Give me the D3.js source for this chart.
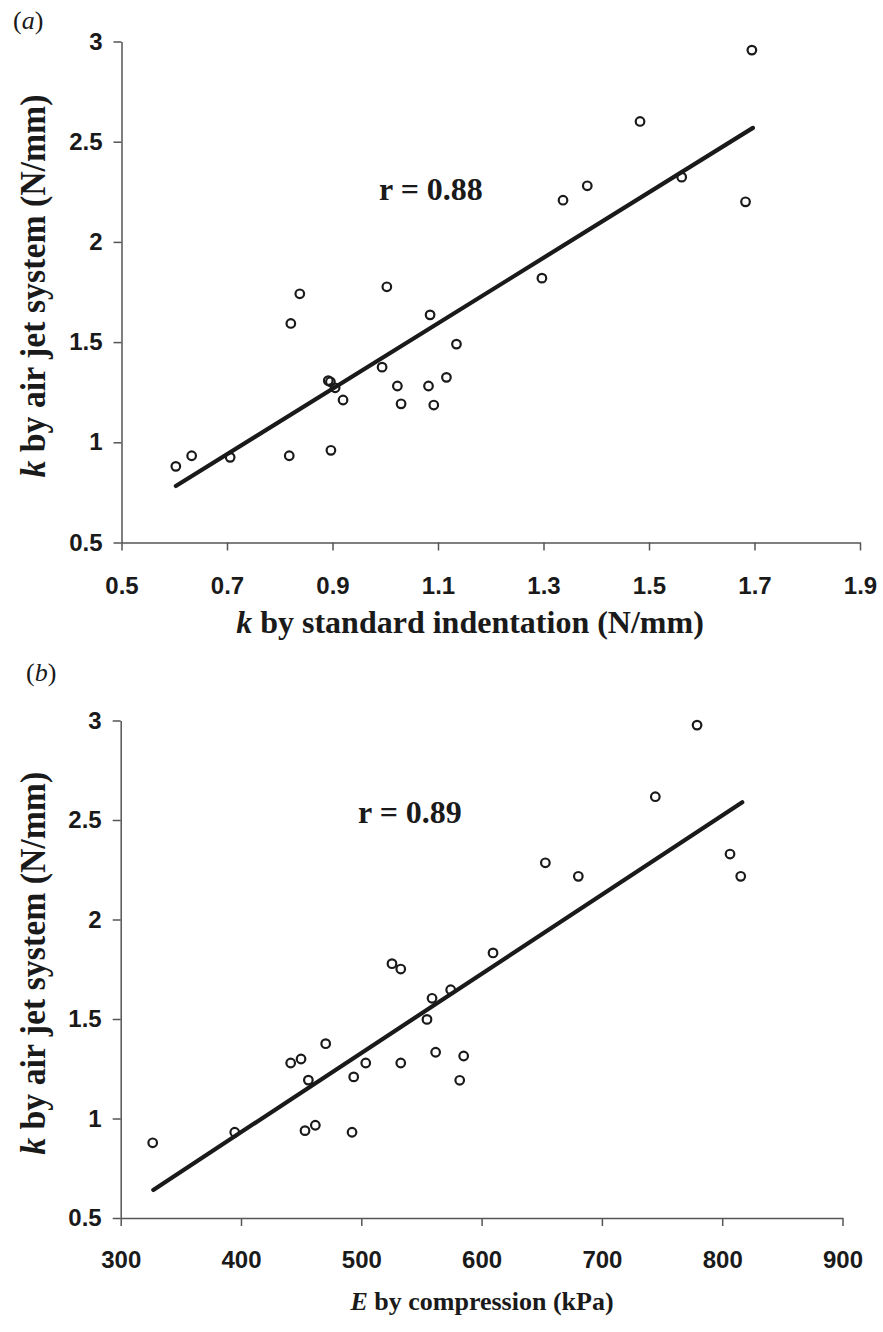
<!DOCTYPE html>
<html>
<head>
<meta charset="utf-8">
<script src="https://cdn.jsdelivr.net/npm/d3@7"></script>
<style>
  html, body { margin: 0; padding: 0; background: #fff; }
  svg { display: block; }
  .tick text { font-family: "Liberation Sans", Arial, sans-serif; font-weight: bold; font-size: 24px; fill: #1a1a1a; }
  .tick line { stroke: #555; stroke-width: 1.5; }
  .domain { stroke: #555; stroke-width: 1.5; }
</style>
</head>
<body>
<svg id="chart" width="883" height="1332"></svg>
<script>
// ---------- DATA ----------
// Panel (a): k by standard indentation (N/mm) vs k by air jet system (N/mm)
const aIndentation = [0.603, 0.633, 0.706, 0.818, 0.821, 0.838, 0.892, 0.896, 0.905, 0.897, 0.920,
  0.994, 1.003, 1.023, 1.030, 1.082, 1.085, 1.092, 1.116, 1.135,
  1.297, 1.337, 1.383, 1.483, 1.562, 1.683, 1.695];
const aAirJet = [0.880, 0.933, 0.925, 0.933, 1.593, 1.741, 1.308, 1.302, 1.272, 0.960, 1.211,
  1.375, 1.776, 1.281, 1.192, 1.281, 1.636, 1.186, 1.324, 1.490,
  1.819, 2.208, 2.280, 2.601, 2.323, 2.200, 2.957];
const aFitX = [0.603, 1.697];
const aFitY = [0.782, 2.569];
const aR = "r = 0.88";

// Panel (b): E by compression (kPa) vs k by air jet system (N/mm)
const bCompression = [326.6, 394.8, 441.3, 449.9, 456.0, 453.2, 461.8, 470.4, 492.3, 493.7, 503.7,
  525.5, 532.8, 532.8, 554.6, 558.8, 561.8, 574.3, 581.8, 585.1, 609.5,
  653.0, 680.4, 744.4, 779.1, 806.5, 815.4];
const bAirJet = [0.878, 0.931, 1.279, 1.299, 1.193, 0.939, 0.966, 1.376, 0.931, 1.209, 1.279,
  1.778, 1.751, 1.279, 1.498, 1.604, 1.333, 1.647, 1.192, 1.314, 1.832,
  2.285, 2.217, 2.617, 2.977, 2.329, 2.217];
const bFitX = [327.1, 816.7];
const bFitY = [0.641, 2.589];
const bR = "r = 0.89";

// Ticks
const aXTicks = [0.5, 0.7, 0.9, 1.1, 1.3, 1.5, 1.7, 1.9];
const bXTicks = [300, 400, 500, 600, 700, 800, 900];
const yTicks = [0.5, 1, 1.5, 2, 2.5, 3];

// ---------- DRAW ----------
const svg = d3.select("#chart");
const ink = "#1a1a1a";
const serif = '"Liberation Serif", "Times New Roman", serif';

function panel(cfg) {
  const g = svg.append("g");
  const x = d3.scaleLinear().domain(cfg.xDomain).range(cfg.xRange);
  const y = d3.scaleLinear().domain([0.5, 3]).range(cfg.yRange);

  const xAxis = d3.axisBottom(x).tickValues(cfg.xTicks).tickSize(8).tickPadding(cfg.xPad)
    .tickFormat(cfg.xFmt).tickSizeOuter(0);
  const yAxis = d3.axisLeft(y).tickValues(yTicks).tickSize(8).tickPadding(11)
    .tickFormat(d => String(d)).tickSizeOuter(0);

  g.append("g").attr("transform", `translate(0,${cfg.yRange[0]})`).call(xAxis);
  g.append("g").attr("transform", `translate(${cfg.xRange[0]},0)`).call(yAxis);

  // fitted line
  const line = d3.line().x(d => x(d[0])).y(d => y(d[1]));
  g.append("path")
    .datum(cfg.fitX.map((v, i) => [v, cfg.fitY[i]]))
    .attr("d", line)
    .attr("fill", "none").attr("stroke", ink).attr("stroke-width", 4.2).attr("stroke-linecap", "round");

  // points
  g.append("g").selectAll("circle")
    .data(cfg.xs.map((v, i) => [v, cfg.ys[i]]))
    .join("circle")
    .attr("cx", d => x(d[0])).attr("cy", d => y(d[1])).attr("r", 4.3)
    .attr("fill", "none").attr("stroke", ink).attr("stroke-width", 2.2);

  // r label
  g.append("text").attr("x", cfg.rPos[0]).attr("y", cfg.rPos[1])
    .attr("font-family", serif).attr("font-weight", "bold").attr("font-size", 32)
    .attr("fill", ink).text(cfg.rText);

  // panel letter
  const pl = g.append("text").attr("x", cfg.letterPos[0]).attr("y", cfg.letterPos[1])
    .attr("font-family", serif).attr("font-size", 26).attr("fill", ink);
  pl.append("tspan").text("(");
  pl.append("tspan").attr("font-style", "italic").text(cfg.letter);
  pl.append("tspan").text(")");

  // y title
  const yc = (cfg.yRange[0] + cfg.yRange[1]) / 2 - 6;
  const yt = g.append("text")
    .attr("transform", `translate(45,${yc}) rotate(-90)`)
    .attr("text-anchor", "middle")
    .attr("font-family", serif).attr("font-weight", "bold").attr("font-size", 36)
    .attr("fill", ink)
    .attr("textLength", 383).attr("lengthAdjust", "spacingAndGlyphs");
  yt.append("tspan").attr("font-style", "italic").text("k");
  yt.append("tspan").text(" by air jet system (N/mm)");

  // x title
  const xt = g.append("text")
    .attr("x", cfg.xTitlePos[0]).attr("y", cfg.xTitlePos[1])
    .attr("text-anchor", "middle")
    .attr("font-family", serif).attr("font-weight", "bold").attr("font-size", cfg.xTitleSize)
    .attr("fill", ink);
  xt.append("tspan").attr("font-style", "italic").text(cfg.xTitle[0]);
  xt.append("tspan").text(cfg.xTitle[1]);
}

panel({
  xDomain: [0.5, 1.9], xRange: [121.5, 860], yRange: [542.5, 41.5],
  xTicks: aXTicks, xFmt: d3.format(".1f"), xPad: 26,
  xs: aIndentation, ys: aAirJet, fitX: aFitX, fitY: aFitY,
  rText: aR, rPos: [379, 200],
  letter: "a", letterPos: [13, 29],
  xTitle: ["k", " by standard indentation (N/mm)"], xTitlePos: [470, 633], xTitleSize: 32
});

panel({
  xDomain: [300, 900], xRange: [120.7, 842.5], yRange: [1218, 720.5],
  xTicks: bXTicks, xFmt: d3.format("d"), xPad: 25,
  xs: bCompression, ys: bAirJet, fitX: bFitX, fitY: bFitY,
  rText: bR, rPos: [358, 823],
  letter: "b", letterPos: [26, 681],
  xTitle: ["E", " by compression (kPa)"], xTitlePos: [482, 1310], xTitleSize: 26
});
</script>
</body>
</html>
